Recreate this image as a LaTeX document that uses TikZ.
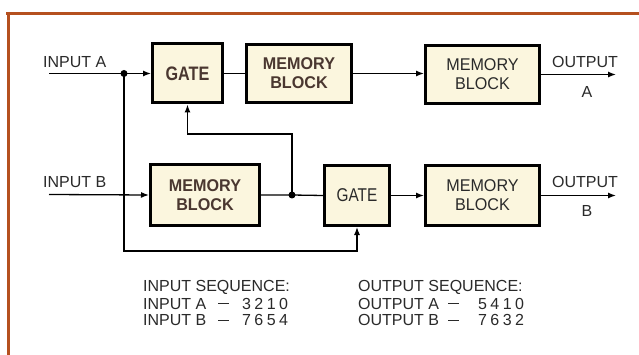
\documentclass[tikz,border=0pt]{standalone}
\usepackage{fontspec}
\setmainfont{Liberation Sans}
\newfontfamily\gatefont[FakeStretch=0.83]{Liberation Sans}
\newfontfamily\memfont[FakeStretch=0.95]{Liberation Sans}
\usetikzlibrary{arrows.meta}
\definecolor{framec}{HTML}{B5501F}
\definecolor{boxfill}{HTML}{FBF6DE}
\definecolor{browntxt}{HTML}{4A3730}
\definecolor{graytxt}{HTML}{2A2A2A}
\newcommand{\dsh}{\raisebox{4.6pt}{\rule{11pt}{1.1pt}}}
\newcommand{\seqline}[4]{\makebox[#1][l]{#2}\makebox[#3][l]{\dsh}#4}
\begin{document}
\begin{tikzpicture}[x=1pt,y=-1pt,
  blk/.style={draw=black,line width=3pt,fill=boxfill,inner sep=0pt,align=center},
  memb/.style={blk,text=browntxt,font=\memfont\fontsize{17}{19}\selectfont\bfseries},
  memr/.style={blk,text=graytxt,font=\memfont\fontsize{17}{19}\selectfont},
  gateb/.style={blk,text=browntxt,font=\gatefont\fontsize{19.5}{20}\selectfont\bfseries},
  gater/.style={blk,text=graytxt,font=\gatefont\fontsize{18.5}{20}\selectfont},
  conn/.style={line width=1.3pt,black},
  arr/.style={conn,-{Latex[length=8pt,width=6pt]}},
  dot/.style={circle,fill=black,inner sep=0pt,minimum size=7pt},
  lbl/.style={text=graytxt,font=\fontsize{16}{20}\selectfont,inner sep=0pt},
  seq/.style={lbl,anchor=west}]
\useasboundingbox (0,0) rectangle (639,355);
\fill[white] (0,0) rectangle (639,355);
% frame
\draw[framec,line width=3pt] (6,13.5) -- (639,13.5);
\draw[framec,line width=3pt] (8.5,12) -- (8.5,355);
% boxes
\node[gateb,minimum width=70pt,minimum height=59pt] (GA) at (187.5,73.5) {GATE};
\node[memb,minimum width=105pt,minimum height=58pt] (MA1) at (299,73.5) {MEMORY\\BLOCK};
\node[memr,minimum width=114pt,minimum height=58pt] (MA2) at (482.5,74.5) {MEMORY\\BLOCK};
\node[memb,minimum width=109pt,minimum height=61pt] (MB1) at (205,195) {MEMORY\\BLOCK};
\node[gater,minimum width=65pt,minimum height=60pt] (GB) at (357,195.5) {GATE};
\node[memr,minimum width=114pt,minimum height=60pt] (MB2) at (482.5,195.5) {MEMORY\\BLOCK};
% coordinates and dots
\coordinate (inA) at (49,73.5);
\coordinate (inB) at (49,194.5);
\node[dot] (dA) at (124,73.5) {};
\node[dot] (dB) at (292,195) {};
\coordinate (low) at (124,251);
\coordinate (fb) at (292,134);
\coordinate (outA) at (616,74.5);
\coordinate (outB) at (616,195.5);
% connectors row A
\draw[conn] (inA) -- (dA.center);
\draw[arr] (dA.center) -- (GA.west);
\draw[conn] (GA.east) -- (MA1.west);
\draw[arr] (MA1.east) -- (MA1.east -| MA2.west);
\draw[arr] (MA2.east) -- (outA);
% connectors row B
\draw[arr] (inB) -- (MB1.west);
\draw[conn] (MB1.east) -- (dB.center) -- (GB.west);
\draw[arr] (GB.east) -- (GB.east -| MB2.west);
\draw[arr] (MB2.east) -- (outB);
% cross connections
\draw[arr] (dA.center) -- (low) -| (GB.south);
\draw[arr] (dB.center) -- (fb) -| (GA.south);
% labels
\node[lbl,anchor=west] (lA) at (43,62) {INPUT A};
\node[lbl,anchor=west] (lB) at (43,182) {INPUT B};
\node[lbl] (oA) at (585,62) {OUTPUT};
\node[lbl] (oAl) at (587,92) {A};
\node[lbl] (oB) at (585,182) {OUTPUT};
\node[lbl] (oBl) at (587,211) {B};
% sequences
\node[seq] (s1) at (143,287) {INPUT SEQUENCE:};
\node[seq] (s2) at (143,303.5) {\seqline{75pt}{INPUT A}{24pt}{3\hspace{3.4pt}2\hspace{3.4pt}1\hspace{3.4pt}0}};
\node[seq] (s3) at (143,320) {\seqline{75pt}{INPUT B}{24pt}{7\hspace{3.4pt}6\hspace{3.4pt}5\hspace{3.4pt}4}};
\node[seq] (s4) at (358,287) {OUTPUT SEQUENCE:};
\node[seq] (s5) at (358,303.5) {\seqline{90pt}{OUTPUT A}{30pt}{5\hspace{3.4pt}4\hspace{3.4pt}1\hspace{3.4pt}0}};
\node[seq] (s6) at (358,320) {\seqline{90pt}{OUTPUT B}{30pt}{7\hspace{3.4pt}6\hspace{3.4pt}3\hspace{3.4pt}2}};
\end{tikzpicture}
\end{document}
